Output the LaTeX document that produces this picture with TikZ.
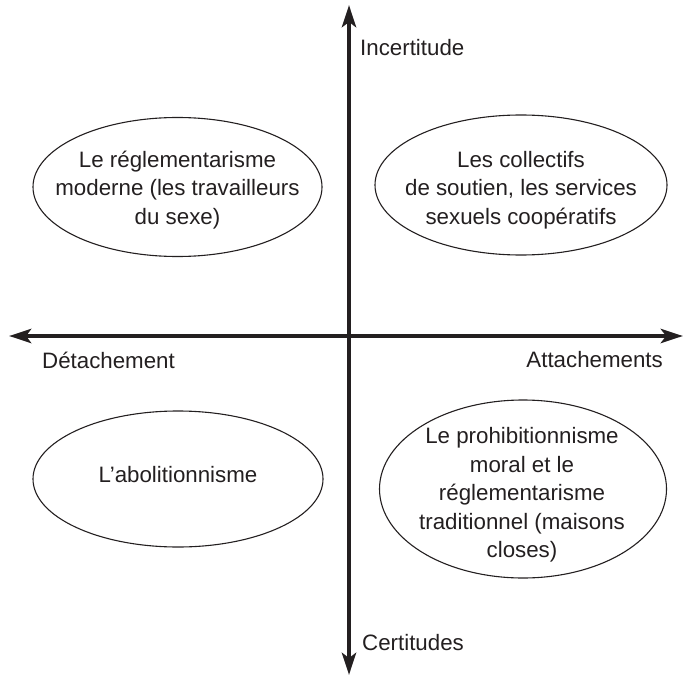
\documentclass[tikz,border=0pt]{standalone}
\usepackage{fontspec}
\setmainfont{Liberation Sans}
\usetikzlibrary{arrows.meta,shapes.geometric}
\definecolor{ink}{HTML}{231F20}
\begin{document}
\begin{tikzpicture}[x=1pt,y=-1pt,
  axis/.style={line width=4.5pt,draw=ink,-{Stealth[length=22pt,width=14pt,inset=5pt]}},
  bubble/.style={ellipse,draw=ink,line width=1.1pt,inner sep=0pt},
  bubbletext/.style={inner sep=0pt,align=center,font=\fontsize{22.3}{28.5}\selectfont,text=ink},
  axlabel/.style={inner sep=0pt,font=\fontsize{22.3}{28}\selectfont,text=ink}]
\useasboundingbox (0,0) rectangle (684,676);
\coordinate (O) at (349,336);
\coordinate (W) at (9,336);
\coordinate (E) at (683,336);
\coordinate (N) at (349,5);
\coordinate (S) at (349,675);
\draw[axis] (O) -- (W);
\draw[axis] (O) -- (E);
\draw[axis] (O) -- (N);
\draw[axis] (O) -- (S);
\node[bubble,minimum width=289pt,minimum height=139pt] (tl) at (177.5,187) {};
\node[bubbletext] (tlt) at (177.5,190)
  {Le réglementarisme\\moderne (les travailleurs\\du sexe)};
\node[bubble,minimum width=292pt,minimum height=140pt] (tr) at (521,185) {};
\node[bubbletext] (trt) at (521,190)
  {Les collectifs\\de soutien, les services\\sexuels coopératifs};
\node[bubble,minimum width=290pt,minimum height=136pt] (bl) at (178,479) {};
\node[bubbletext] (blt) at (178,475) {L’abolitionnisme};
\node[bubble,minimum width=287pt,minimum height=178pt] (br) at (523,489) {};
\node[bubbletext] (brt) at (522,495)
  {Le prohibitionnisme\\moral et le\\réglementarisme\\traditionnel (maisons\\closes)};
\node[axlabel,anchor=west] (inc) at (360,48) {Incertitude};
\node[axlabel,anchor=west] (cer) at (362,643) {Certitudes};
\node[axlabel,anchor=west] (det) at (42,360) {Détachement};
\node[axlabel,anchor=east] (att) at (663,360) {Attachements};
\end{tikzpicture}
\end{document}
